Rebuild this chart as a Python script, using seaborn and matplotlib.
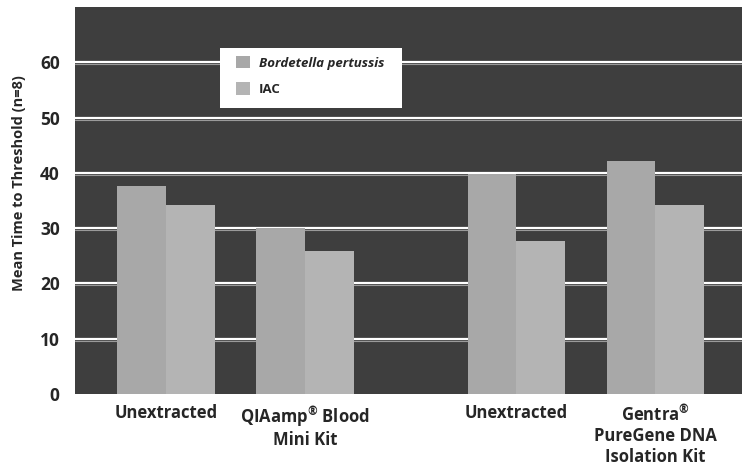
import matplotlib
matplotlib.use('Agg')
import matplotlib.pyplot as plt
from matplotlib.patches import Rectangle
import pandas as pd
import seaborn as sns

# chart data
groups = ['Unextracted', 'QIAamp$^{®}$ Blood\nMini Kit', 'Unextracted',
          'Gentra$^{®}$\nPureGene DNA\nIsolation Kit']
series = ['Bordetella pertussis', 'IAC']
pertussis = [37.7, 30.1, 39.8, 42.2]
iac = [34.1, 25.9, 27.7, 34.2]

# layout: gap between the two pairs of groups
group_pos = [0, 1, 2.52, 3.52]

sns.set_style('white')
plt.rcParams['font.family'] = ['Open Sans', 'DejaVu Sans']
plt.rcParams['mathtext.fontset'] = 'custom'
plt.rcParams['mathtext.rm'] = 'Open Sans:bold'
plt.rcParams['mathtext.it'] = 'Open Sans:bold'
plt.rcParams['mathtext.bf'] = 'Open Sans:bold'

rows = []
for pos, p, q in zip(group_pos, pertussis, iac):
    rows.append({'pos': pos, 'series': series[0], 'value': p})
    rows.append({'pos': pos, 'series': series[1], 'value': q})
df = pd.DataFrame(rows)

W, H = 742, 465
fig = plt.figure(figsize=(W / 100, H / 100), dpi=100)
ax = fig.add_axes([75 / W, 1 - 394 / H, 1 - 75 / W, 387 / H])
ax.set_facecolor('#3e3e3e')

for y in range(10, 70, 10):
    ax.axhline(y, color='white', lw=1.6, zorder=1)
    ax.axhline(y - 0.35, color='#9a9a9a', lw=0.8, zorder=1)

sns.barplot(data=df, x='pos', y='value', hue='series', native_scale=True,
            palette=['#a8a8a8', '#b4b4b4'], width=0.7, saturation=1,
            errorbar=None, ax=ax, zorder=2, linewidth=0)

ax.set_xlim(-0.655, 4.144)
ax.set_ylim(0, 70)
ax.set_yticks(range(0, 70, 10))
ax.set_xticks(group_pos)
ax.set_xticklabels(groups, fontsize=12, fontweight='bold', linespacing=1.2)
ax.tick_params(axis='y', labelsize=12.5, length=0, pad=11)
ax.tick_params(axis='x', length=0, pad=7)
for lab in ax.get_yticklabels():
    lab.set_fontweight('bold')
ax.set_xlabel('')
ax.set_ylabel('Mean Time to Threshold (n=8)', fontsize=10.5, fontweight='bold')
ax.yaxis.set_label_coords((26 - 75) / 667, (394 - 183) / 387)
for s in ax.spines.values():
    s.set_visible(False)

# white legend box
ax.add_patch(Rectangle((220 / W, 1 - 108 / H), 182 / W, 60 / H, transform=fig.transFigure,
                       facecolor='white', edgecolor='none', zorder=4, clip_on=False))
leg = ax.legend(loc='upper left', bbox_to_anchor=(236 / W, 1 - 56 / H),
                bbox_transform=fig.transFigure, borderaxespad=0, borderpad=0,
                frameon=False, fontsize=9.5, handlelength=1.06, handleheight=1.06,
                labelspacing=0.95, handletextpad=0.68)
leg.set_zorder(5)
leg.get_texts()[0].set_fontstyle('italic')
for t in leg.get_texts():
    t.set_fontweight('bold')

fig.savefig('out.png', dpi=100)
